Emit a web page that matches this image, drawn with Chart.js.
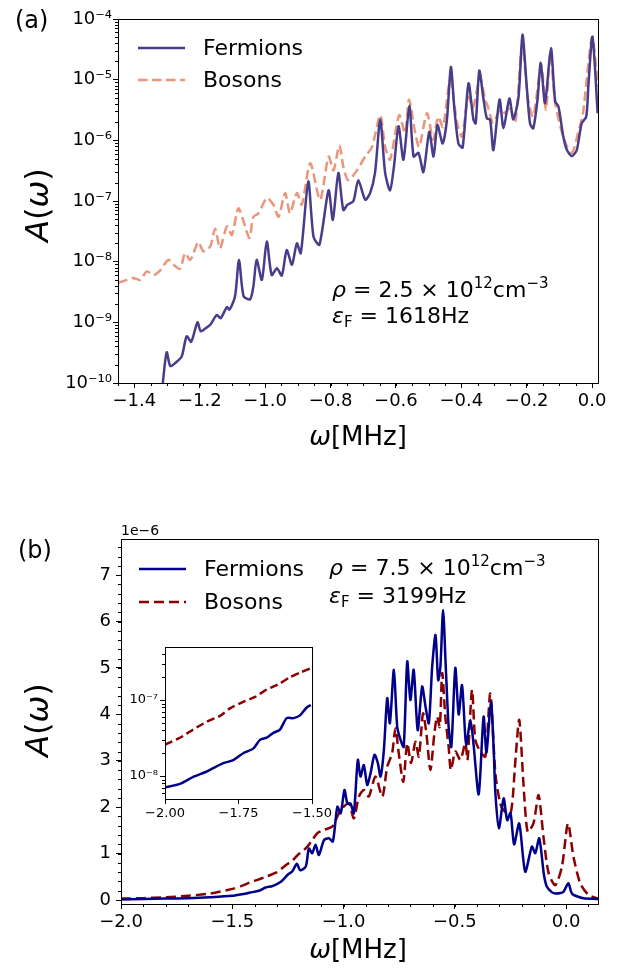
<!DOCTYPE html>
<html>
<head>
<meta charset="utf-8">
<script src="https://cdn.jsdelivr.net/npm/chart.js@4.4.0/dist/chart.umd.min.js"></script>
<style>
  body { margin: 0; background: #fff; }
  #wrap { position: relative; width: 618px; height: 968px; overflow: hidden; }
  canvas { position: absolute; }
</style>
</head>
<body>
<div id="wrap">
  <canvas id="chartA" style="left:0;top:0;width:618px;height:480px" width="618" height="480"></canvas>
  <canvas id="chartB" style="left:0;top:500px;width:618px;height:468px" width="618" height="468"></canvas>
  <canvas id="inset" style="left:105px;top:635px;width:230px;height:195px" width="230" height="195"></canvas>
</div>
<script>
// ---- panel (a): log scale, omega in MHz ----
const omegaFermA = [-1.318,-1.313,-1.301,-1.290,-1.272,-1.255,-1.240,-1.226,-1.207,-1.197,-1.182,-1.168,-1.148,-1.136,-1.117,-1.109,-1.092,-1.080,-1.066,-1.046,-1.036,-1.026,-1.010,-0.995,-0.980,-0.964,-0.949,-0.934,-0.918,-0.903,-0.891,-0.868,-0.852,-0.834,-0.806,-0.793,-0.776,-0.761,-0.748,-0.730,-0.715,-0.694,-0.679,-0.664,-0.648,-0.633,-0.618,-0.606,-0.592,-0.577,-0.559,-0.546,-0.531,-0.516,-0.498,-0.485,-0.473,-0.457,-0.444,-0.432,-0.421,-0.409,-0.396,-0.378,-0.363,-0.356,-0.345,-0.332,-0.322,-0.312,-0.302,-0.283,-0.271,-0.253,-0.241,-0.225,-0.213,-0.200,-0.190,-0.180,-0.167,-0.157,-0.144,-0.126,-0.113,-0.103,-0.088,-0.077,-0.062,-0.047,-0.032,-0.018,-0.011,0.001,0.017];
const fermionsA = [5e-11,1.0e-10,3.2e-10,1.9e-10,2.2e-10,2.75e-10,5.9e-10,4.8e-10,1.0e-9,7.1e-10,8.0e-10,9.1e-10,1.32e-9,1.17e-9,1.78e-9,1.62e-9,2.7e-9,1.07e-8,2.7e-9,2.4e-9,3.9e-9,1.07e-8,5.0e-9,2.14e-8,6.0e-9,7.8e-9,5.9e-9,1.55e-8,8.9e-9,2.0e-8,1.38e-8,2.1e-7,2.57e-8,1.9e-8,1.5e-7,4.9e-8,2.9e-7,7.1e-8,8.7e-8,1.0e-7,2.2e-7,1.05e-7,1.35e-7,2.9e-7,2.2e-6,2.9e-7,1.5e-7,3.7e-7,1.7e-6,4.8e-7,3.7e-6,5.4e-7,6.2e-7,3.0e-7,1.38e-6,5.4e-7,1.78e-6,8.9e-7,2.2e-6,1.62e-5,3.2e-6,8.9e-7,7.6e-7,8.7e-6,2.2e-6,1.9e-6,1.41e-5,4.7e-6,2.3e-6,2.2e-6,6.9e-7,4.7e-6,1.58e-6,4.9e-6,2.2e-6,5.2e-6,5.5e-5,7.8e-6,1.9e-6,1.58e-6,4.7e-6,1.9e-5,4.1e-6,3.3e-5,4.4e-6,3.6e-6,1.15e-6,6.9e-7,5.5e-7,6.9e-7,1.9e-6,2.45e-6,8.7e-6,5.1e-5,2.8e-6];

const omegaBosA = [-1.449,-1.423,-1.404,-1.382,-1.362,-1.341,-1.321,-1.296,-1.280,-1.260,-1.245,-1.229,-1.204,-1.189,-1.168,-1.153,-1.138,-1.117,-1.102,-1.082,-1.066,-1.048,-1.036,-1.020,-0.995,-0.975,-0.959,-0.939,-0.924,-0.903,-0.888,-0.862,-0.832,-0.806,-0.791,-0.773,-0.761,-0.746,-0.719,-0.694,-0.673,-0.648,-0.633,-0.618,-0.590,-0.572,-0.560,-0.541,-0.529,-0.505,-0.486,-0.471,-0.456,-0.434,-0.413,-0.398,-0.379,-0.364,-0.343,-0.327,-0.318,-0.303,-0.281,-0.266,-0.251,-0.235,-0.214,-0.196,-0.180,-0.156,-0.141,-0.128,-0.113,-0.092,-0.076,-0.061,-0.043,-0.028,0.000,0.018];
const bosonsA = [4.5e-9,5.0e-9,5.4e-9,5.0e-9,6.9e-9,6.0e-9,7.2e-9,1.07e-8,8.9e-9,7.6e-9,1.38e-8,1.07e-8,2.1e-8,1.48e-8,1.78e-8,3.5e-8,1.66e-8,3.8e-8,2.75e-8,7.6e-8,4.6e-8,2.45e-8,5.5e-8,6.3e-8,1.12e-7,8.7e-8,5.5e-8,1.35e-7,6.3e-8,1.35e-7,8.7e-8,4.2e-7,1.05e-7,5.4e-7,3.2e-7,8.3e-7,3.7e-7,2.2e-7,3.2e-7,5.4e-7,7.8e-7,2.6e-6,7.8e-7,4.8e-7,2.6e-6,1.32e-6,4.7e-6,1.32e-6,7.8e-7,2.8e-6,1.02e-6,2.45e-6,1.66e-6,1.0e-5,1.95e-6,1.15e-6,5.2e-6,3.5e-6,1.1e-5,4.7e-6,3.5e-6,1.95e-6,3.2e-6,2.8e-6,3.5e-6,1.95e-6,3.7e-5,4.7e-6,2.45e-6,1.74e-5,3.2e-6,2.75e-5,4.2e-6,1.32e-6,7.8e-7,6.2e-7,1.32e-6,2.8e-6,5.0e-5,7.6e-6];

const xTicksA = [-1.4,-1.2,-1.0,-0.8,-0.6,-0.4,-0.2,0.0];
const yTicksA = [1e-10,1e-9,1e-8,1e-7,1e-6,1e-5,1e-4];

// ---- panel (b): linear scale, A in units of 1e-6 ----
const omegaFermB = [-2.00,-1.90,-1.80,-1.70,-1.60,-1.50,-1.45,-1.42,-1.38,-1.35,-1.32,-1.28,-1.25,-1.23,-1.21,-1.195,-1.17,-1.156,-1.141,-1.126,-1.111,-1.088,-1.066,-1.048,-1.028,-1.013,-0.996,-0.983,-0.969,-0.954,-0.936,-0.924,-0.909,-0.894,-0.879,-0.861,-0.846,-0.834,-0.819,-0.804,-0.792,-0.774,-0.759,-0.744,-0.730,-0.714,-0.700,-0.685,-0.667,-0.647,-0.632,-0.617,-0.602,-0.587,-0.575,-0.565,-0.553,-0.541,-0.528,-0.516,-0.498,-0.483,-0.468,-0.453,-0.448,-0.430,-0.416,-0.393,-0.371,-0.358,-0.338,-0.326,-0.318,-0.302,-0.281,-0.265,-0.250,-0.234,-0.211,-0.184,-0.154,-0.139,-0.121,-0.100,-0.087,-0.065,-0.049,-0.025,-0.012,0.010,0.022,0.033,0.060,0.078,0.143];
const fermionsB = [0.01,0.02,0.03,0.04,0.06,0.09,0.13,0.16,0.20,0.27,0.30,0.40,0.55,0.62,0.78,0.64,0.72,1.11,1.01,1.19,0.97,1.29,1.33,1.26,2.01,1.87,2.37,2.08,2.08,1.87,3.02,2.66,2.91,2.48,2.73,3.13,2.95,2.66,3.23,4.35,3.81,4.96,3.73,3.45,3.30,5.14,4.31,4.96,3.66,4.60,4.17,3.81,5.03,5.71,4.74,5.03,6.25,5.03,3.73,3.30,5.00,4.00,4.63,3.50,3.35,3.88,3.35,2.28,3.95,3.18,4.27,3.30,2.30,1.55,2.19,1.72,1.88,1.20,1.65,0.61,1.15,1.01,1.33,0.55,0.29,0.17,0.14,0.15,0.18,0.36,0.18,0.11,0.06,0.04,0.02];

const omegaBosB = [-2.00,-1.90,-1.80,-1.70,-1.60,-1.50,-1.46,-1.42,-1.39,-1.35,-1.30,-1.26,-1.23,-1.20,-1.193,-1.163,-1.141,-1.118,-1.088,-1.051,-1.028,-1.006,-0.976,-0.954,-0.931,-0.909,-0.887,-0.857,-0.826,-0.804,-0.782,-0.767,-0.752,-0.732,-0.714,-0.697,-0.677,-0.662,-0.643,-0.628,-0.610,-0.592,-0.580,-0.568,-0.557,-0.543,-0.528,-0.518,-0.498,-0.475,-0.453,-0.443,-0.423,-0.408,-0.386,-0.363,-0.341,-0.318,-0.296,-0.274,-0.248,-0.229,-0.211,-0.191,-0.173,-0.147,-0.124,-0.102,-0.079,-0.049,-0.019,0.008,0.033,0.063,0.100,0.143];
const bosonsB = [0.03,0.04,0.06,0.09,0.14,0.24,0.30,0.38,0.43,0.50,0.60,0.75,0.85,1.00,1.01,1.15,1.29,1.44,1.51,1.58,1.80,1.98,2.08,1.76,2.23,2.37,2.23,2.66,2.23,2.87,3.16,3.70,3.16,2.55,3.38,2.95,3.41,3.09,4.02,3.59,2.80,3.59,3.95,3.73,4.89,3.95,3.30,2.80,3.20,3.02,3.38,3.02,4.53,3.45,3.20,3.09,4.45,2.73,2.08,1.90,1.90,2.95,3.88,2.44,1.47,1.65,2.26,1.36,0.58,0.32,0.72,1.65,0.93,0.36,0.11,0.03];

const xTicksB = [-2.0,-1.5,-1.0,-0.5,0.0];
const yTicksB = [0,1,2,3,4,5,6,7];

// ---- inset of (b): log scale ----
const omegaFermIn = [-2.000,-1.949,-1.904,-1.858,-1.802,-1.768,-1.734,-1.700,-1.677,-1.654,-1.632,-1.609,-1.586,-1.563,-1.541,-1.518,-1.504];
const fermionsIn = [7.1e-9,7.9e-9,9.8e-9,1.15e-8,1.48e-8,1.62e-8,2.0e-8,2.3e-8,3.0e-8,3.2e-8,3.7e-8,4.1e-8,5.8e-8,5.8e-8,6.3e-8,8.0e-8,8.6e-8];
const omegaBosIn = [-2.000,-1.949,-1.904,-1.858,-1.813,-1.779,-1.734,-1.694,-1.654,-1.609,-1.575,-1.541,-1.507];
const bosonsIn = [2.6e-8,3.2e-8,4.1e-8,5.2e-8,6.2e-8,7.8e-8,9.5e-8,1.1e-7,1.38e-7,1.66e-7,2.0e-7,2.3e-7,2.6e-7];
const xTicksIn = [-2.0,-1.75,-1.5];
const yTicksIn = [1e-8,1e-7];

Chart.defaults.font.family = '"DejaVu Sans"';
Chart.defaults.color = '#000';

const pts = (xs, ys) => xs.map((x, i) => ({ x: x, y: ys[i] }));
const sup = s => s.replace(/-/g, '\u207B').replace(/\d/g, d => '\u2070\u00B9\u00B2\u00B3\u2074\u2075\u2076\u2077\u2078\u2079'[d]);
const fmt = (v, d) => (Math.abs(v) < 1e-9 ? 0 : v).toFixed(d).replace('-', '\u2212');
const powLabel = v => '10' + sup(String(Math.round(Math.log10(v))));

function logMinors(lo, hi) {
  const out = [];
  for (let e = lo; e < hi; e++) for (let m = 2; m <= 9; m++) out.push(m * Math.pow(10, e));
  return out;
}
function linMinors(a, b, step) {
  const out = [];
  for (let v = a; v <= b + 1e-9; v += step) out.push(+v.toFixed(4));
  return out;
}

// box around the plot and the short minor ticks
const frame = {
  id: 'frame',
  afterDraw(chart, args, o) {
    const { ctx, chartArea: a, scales } = chart;
    ctx.save();
    ctx.strokeStyle = '#000';
    ctx.lineWidth = 1;
    ctx.strokeRect(Math.round(a.left) + 0.5, Math.round(a.top) + 0.5, Math.round(a.right - a.left), Math.round(a.bottom - a.top));
    ctx.beginPath();
    (o.xMinor || []).forEach(v => {
      const p = Math.round(scales.x.getPixelForValue(v)) + 0.5;
      if (p < a.left || p > a.right) return;
      ctx.moveTo(p, a.bottom); ctx.lineTo(p, a.bottom + 3);
    });
    (o.yMinor || []).forEach(v => {
      const p = Math.round(scales.y.getPixelForValue(v)) + 0.5;
      if (p < a.top || p > a.bottom) return;
      ctx.moveTo(a.left, p); ctx.lineTo(a.left - 3, p);
    });
    ctx.stroke();
    ctx.restore();
  }
};

function rich(ctx, x, y, parts) {
  parts.forEach(p => {
    ctx.font = (p.it ? 'italic ' : '') + (p.size || 22) + 'px "DejaVu Sans"';
    ctx.fillText(p.t, x, y + (p.dy || 0));
    x += ctx.measureText(p.t).width;
  });
}

function legend(chart, x0, y0, dy) {
  const ctx = chart.ctx;
  chart.data.datasets.forEach((ds, i) => {
    const y = y0 + i * dy;
    ctx.save();
    ctx.strokeStyle = ds.borderColor;
    ctx.lineWidth = 2.5;
    ctx.setLineDash(ds.borderDash || []);
    ctx.beginPath(); ctx.moveTo(x0, y); ctx.lineTo(x0 + 47, y); ctx.stroke();
    ctx.restore();
    ctx.fillStyle = '#000';
    ctx.font = '22px "DejaVu Sans"';
    ctx.textBaseline = 'middle';
    ctx.fillText(ds.label, x0 + 65, y + 1);
    ctx.textBaseline = 'alphabetic';
  });
}

function yTitle(ctx, cx, cy) {
  ctx.save();
  ctx.translate(cx, cy);
  ctx.rotate(-Math.PI / 2);
  ctx.fillStyle = '#000';
  const parts = [{ t: 'A', it: 1 }, { t: '(' }, { t: '\u03C9', it: 1 }, { t: ')' }];
  let w = 0;
  parts.forEach(p => { ctx.font = (p.it ? 'italic ' : '') + '32px "DejaVu Sans"'; w += ctx.measureText(p.t).width; });
  rich(ctx, -w / 2, 0, parts.map(p => Object.assign({ size: 32 }, p)));
  ctx.restore();
}

function xTitle(ctx, cx, y) {
  ctx.fillStyle = '#000';
  const parts = [{ t: '\u03C9', it: 1, size: 26 }, { t: '[MHz]', size: 26 }];
  let w = 0;
  parts.forEach(p => { ctx.font = (p.it ? 'italic ' : '') + '26px "DejaVu Sans"'; w += ctx.measureText(p.t).width; });
  rich(ctx, cx - w / 2, y, parts);
}

function axisCommon(size, pad) {
  return {
    grid: { drawOnChartArea: false, drawTicks: true, tickLength: 5, tickColor: '#000', tickWidth: 1 },
    border: { display: true, color: '#000', width: 1 },
    ticks: { font: { size: size }, color: '#000', padding: pad, autoSkip: false, maxRotation: 0 }
  };
}

function line(label, xs, ys, color, dash) {
  return {
    label: label, data: pts(xs, ys), borderColor: color, borderWidth: 2.5,
    borderDash: dash || [], pointRadius: 0, tension: 0.25, fill: false
  };
}

function merge(base, extra) {
  const out = Object.assign({}, base, extra);
  out.ticks = Object.assign({}, base.ticks, extra.ticks || {});
  return out;
}

// ---------- chart (a) ----------
new Chart(document.getElementById('chartA'), {
  type: 'line',
  data: {
    datasets: [
      line('Fermions', omegaFermA, fermionsA, '#483D8B'),
      line('Bosons', omegaBosA, bosonsA, '#E9967A', [9.5, 4.5])
    ]
  },
  options: {
    responsive: false, animation: false, events: [],
    layout: { padding: { left: 0, top: 19, right: 20, bottom: 0 } },
    plugins: {
      legend: { display: false }, tooltip: { enabled: false },
      frame: { xMinor: linMinors(-1.45, 0.0, 0.05), yMinor: logMinors(-10, -4) }
    },
    scales: {
      x: merge(axisCommon(18, 3), {
        type: 'linear', min: -1.45, max: 0.018,
        afterBuildTicks: s => { s.ticks = xTicksA.map(v => ({ value: v })); },
        afterFit: s => { s.height = 97; },
        ticks: { callback: v => fmt(v, 1) }
      }),
      y: merge(axisCommon(18, 1), {
        type: 'logarithmic', min: 1e-10, max: 1e-4,
        afterBuildTicks: s => { s.ticks = yTicksA.map(v => ({ value: v })); },
        afterFit: s => { s.width = 118; },
        ticks: { callback: v => powLabel(v) }
      })
    }
  },
  plugins: [frame, {
    id: 'textA',
    afterDraw(chart) {
      const ctx = chart.ctx;
      ctx.save();
      ctx.fillStyle = '#000';
      legend(chart, 138, 48, 32);
      rich(ctx, 332, 297, [{ t: '\u03C1', it: 1 }, { t: ' = 2.5 \u00D7 10' }, { t: '12', size: 15, dy: -9 }, { t: 'cm' }, { t: '\u22123', size: 15, dy: -9 }]);
      rich(ctx, 332, 323, [{ t: '\u03B5', it: 1 }, { t: 'F', size: 15, dy: 4 }, { t: ' = 1618Hz' }]);
      rich(ctx, 15, 28, [{ t: '(a)', size: 24 }]);
      yTitle(ctx, 48, 205);
      xTitle(ctx, 358, 445);
      ctx.restore();
    }
  }]
});

// ---------- chart (b) ----------
new Chart(document.getElementById('chartB'), {
  type: 'line',
  data: {
    datasets: [
      line('Fermions', omegaFermB, fermionsB, '#00008B'),
      line('Bosons', omegaBosB, bosonsB, '#8B0000', [10, 5])
    ]
  },
  options: {
    responsive: false, animation: false, events: [],
    layout: { padding: { left: 0, top: 39, right: 20, bottom: 0 } },
    plugins: {
      legend: { display: false }, tooltip: { enabled: false },
      frame: { xMinor: linMinors(-2.0, 0.1, 0.1), yMinor: linMinors(0, 7.6, 0.2) }
    },
    scales: {
      x: merge(axisCommon(18, 3), {
        type: 'linear', min: -2.0, max: 0.143,
        afterBuildTicks: s => { s.ticks = xTicksB.map(v => ({ value: v })); },
        afterFit: s => { s.height = 64; },
        ticks: { callback: v => fmt(v, 1) }
      }),
      y: merge(axisCommon(18, 5), {
        type: 'linear', min: -0.086, max: 7.78,
        afterBuildTicks: s => { s.ticks = yTicksB.map(v => ({ value: v })); },
        afterFit: s => { s.width = 121; },
        ticks: { callback: v => String(v) }
      })
    }
  },
  plugins: [frame, {
    id: 'textB',
    afterDraw(chart) {
      const ctx = chart.ctx;
      ctx.save();
      ctx.fillStyle = '#000';
      legend(chart, 139, 69, 33);
      rich(ctx, 329, 75, [{ t: '\u03C1', it: 1 }, { t: ' = 7.5 \u00D7 10' }, { t: '12', size: 15, dy: -9 }, { t: 'cm' }, { t: '\u22123', size: 15, dy: -9 }]);
      rich(ctx, 329, 103, [{ t: '\u03B5', it: 1 }, { t: 'F', size: 15, dy: 4 }, { t: ' = 3199Hz' }]);
      rich(ctx, 18, 58, [{ t: '(b)', size: 24 }]);
      rich(ctx, 121, 35, [{ t: '1e\u22126', size: 14 }]);
      yTitle(ctx, 48, 220);
      xTitle(ctx, 358, 458);
      ctx.restore();
    }
  }]
});

// ---------- inset ----------
new Chart(document.getElementById('inset'), {
  type: 'line',
  data: {
    datasets: [
      line('Fermions', omegaFermIn, fermionsIn, '#00008B'),
      line('Bosons', omegaBosIn, bosonsIn, '#8B0000', [8, 4])
    ]
  },
  options: {
    responsive: false, animation: false, events: [],
    layout: { padding: { left: 0, top: 12, right: 23, bottom: 0 } },
    plugins: {
      legend: { display: false }, tooltip: { enabled: false },
      frame: { yMinor: logMinors(-9, -6).filter(v => v > 5e-9 && v < 5e-7) }
    },
    scales: {
      x: merge(axisCommon(13, 2), {
        type: 'linear', min: -2.0, max: -1.5,
        afterBuildTicks: s => { s.ticks = xTicksIn.map(v => ({ value: v })); },
        afterFit: s => { s.height = 31; },
        ticks: { callback: v => fmt(v, 2) }
      }),
      y: merge(axisCommon(13, 2), {
        type: 'logarithmic', min: 5e-9, max: 5e-7,
        afterBuildTicks: s => { s.ticks = yTicksIn.map(v => ({ value: v })); },
        afterFit: s => { s.width = 60; },
        ticks: { callback: v => powLabel(v) }
      })
    }
  },
  plugins: [frame]
});
</script>
</body>
</html>
